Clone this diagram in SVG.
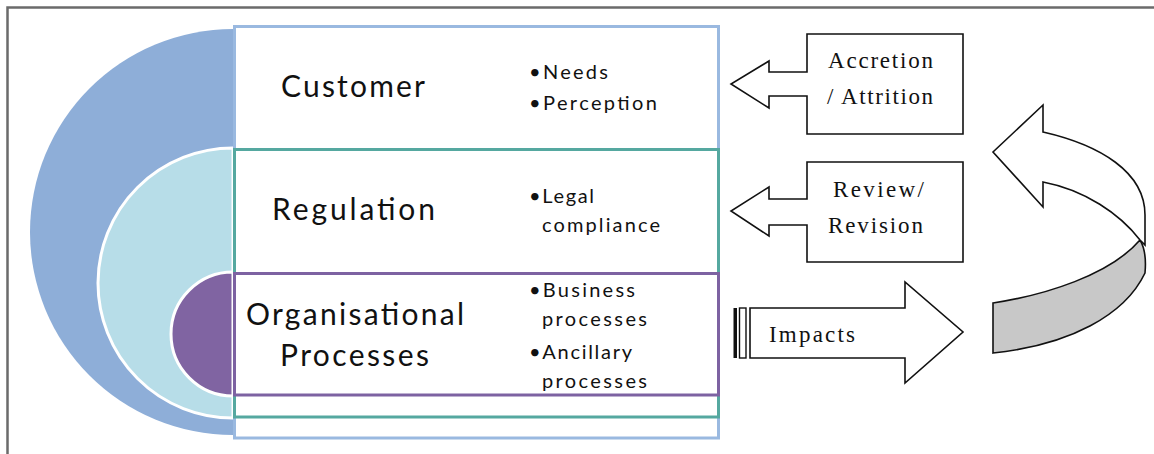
<svg xmlns="http://www.w3.org/2000/svg" width="1154" height="454" viewBox="0 0 1154 454">
  <style>
    .frame { fill: none; stroke: #6b6b6b; stroke-width: 2.5; }
    .band { fill: none; stroke-width: 3; }
    .head { font-family: Lato, "Open Sans", sans-serif; font-size: 30px; fill: #111; }
    .item { font-family: Lato, "Open Sans", sans-serif; font-size: 20px; fill: #111; }
    .serif { font-family: "Liberation Serif", "Times New Roman", serif; font-size: 23px; fill: #111; }
    .shape { fill: #fff; stroke: #111; stroke-width: 1.6; stroke-linejoin: miter; }
  </style>

  <rect width="1154" height="454" fill="#fff"/>
  <!-- outer frame: top and left edges -->
  <path class="frame" d="M7.5,454 V7.5 H1154"/>

  <!-- nested half-discs -->
  <g id="discs">
    <path d="M233,29 A203,203 0 0 0 233,435 Z" fill="#8eaed8"/>
    <path d="M233,148 A135,135 0 0 0 233,418 Z" fill="#b7dde8" stroke="#fff" stroke-width="3"/>
    <path d="M233,272 A62,62 0 0 0 233,396 Z" fill="#8064a2" stroke="#fff" stroke-width="3"/>
  </g>

  <!-- stacked layer bands -->
  <g id="layers">
    <rect x="234.5" y="26.5" width="484" height="411.5" fill="#fff" class="band" stroke="#9ab9e0"/>
    <rect x="234.5" y="149.5" width="484" height="267.5" class="band" stroke="#55a8a0"/>
    <rect x="234.5" y="273.5" width="484" height="121.5" class="band" stroke="#7d62a2"/>
  </g>

  <g id="customer">
    <text class="head" x="281" y="97" textLength="144" lengthAdjust="spacing">Customer</text>
    <text class="item" x="529" y="79" textLength="79" lengthAdjust="spacing">•Needs</text>
    <text class="item" x="529" y="110" textLength="128" lengthAdjust="spacing">•Perception</text>
  </g>

  <g id="regulation">
    <text class="head" x="272" y="220" textLength="163" lengthAdjust="spacing">Regulation</text>
    <text class="item" x="529" y="203" textLength="65" lengthAdjust="spacing">•Legal</text>
    <text class="item" x="542" y="232" textLength="118" lengthAdjust="spacing">compliance</text>
  </g>

  <g id="organisational">
    <text class="head" x="246" y="325" textLength="218" lengthAdjust="spacing">Organisational</text>
    <text class="head" x="280" y="366" textLength="149" lengthAdjust="spacing">Processes</text>
    <text class="item" x="529" y="297" textLength="106" lengthAdjust="spacing">•Business</text>
    <text class="item" x="542" y="326" textLength="105" lengthAdjust="spacing">processes</text>
    <text class="item" x="529" y="359" textLength="103" lengthAdjust="spacing">•Ancillary</text>
    <text class="item" x="542" y="388" textLength="105" lengthAdjust="spacing">processes</text>
  </g>

  <!-- callouts and arrows -->
  <g id="accretion">
    <path class="shape" d="M807,34 H963 V134 H807 V96 H769 V108 L731,84 L769,61 V72 H807 Z"/>
    <text class="serif" x="828" y="68" textLength="105" lengthAdjust="spacing">Accretion</text>
    <text class="serif" x="827" y="104" textLength="106" lengthAdjust="spacing">/ Attrition</text>
  </g>

  <g id="review">
    <path class="shape" d="M807,162 H963 V262 H807 V225 H769 V236 L731,211 L769,187 V199 H807 Z"/>
    <text class="serif" x="833" y="197" textLength="91" lengthAdjust="spacing">Review/</text>
    <text class="serif" x="828" y="233" textLength="95" lengthAdjust="spacing">Revision</text>
  </g>

  <g id="impacts">
    <rect x="733.5" y="308" width="3.5" height="50" fill="#111"/>
    <rect x="739.5" y="308" width="6.5" height="50" fill="#fff" stroke="#111" stroke-width="1.4"/>
    <path class="shape" d="M750,308 H905 V282 L963,332 L905,383 V358 H750 Z"/>
    <text class="serif" x="769" y="342" textLength="86" lengthAdjust="spacing">Impacts</text>
  </g>

  <g id="cycle">
    <path d="M993,303 C1045,295 1110,275 1140,240 C1146,250 1146,262 1145,273 C1125,315 1070,345 993,353 Z" fill="#c8c8c8" stroke="#111" stroke-width="1.6"/>
    <path class="shape" d="M1043,132 C1100,145 1145,172 1145,215 L1145,245 L1140,240 C1120,214 1085,190 1043,182 L1043,207 L993,152 L1043,105 Z"/>
  </g>
</svg>
